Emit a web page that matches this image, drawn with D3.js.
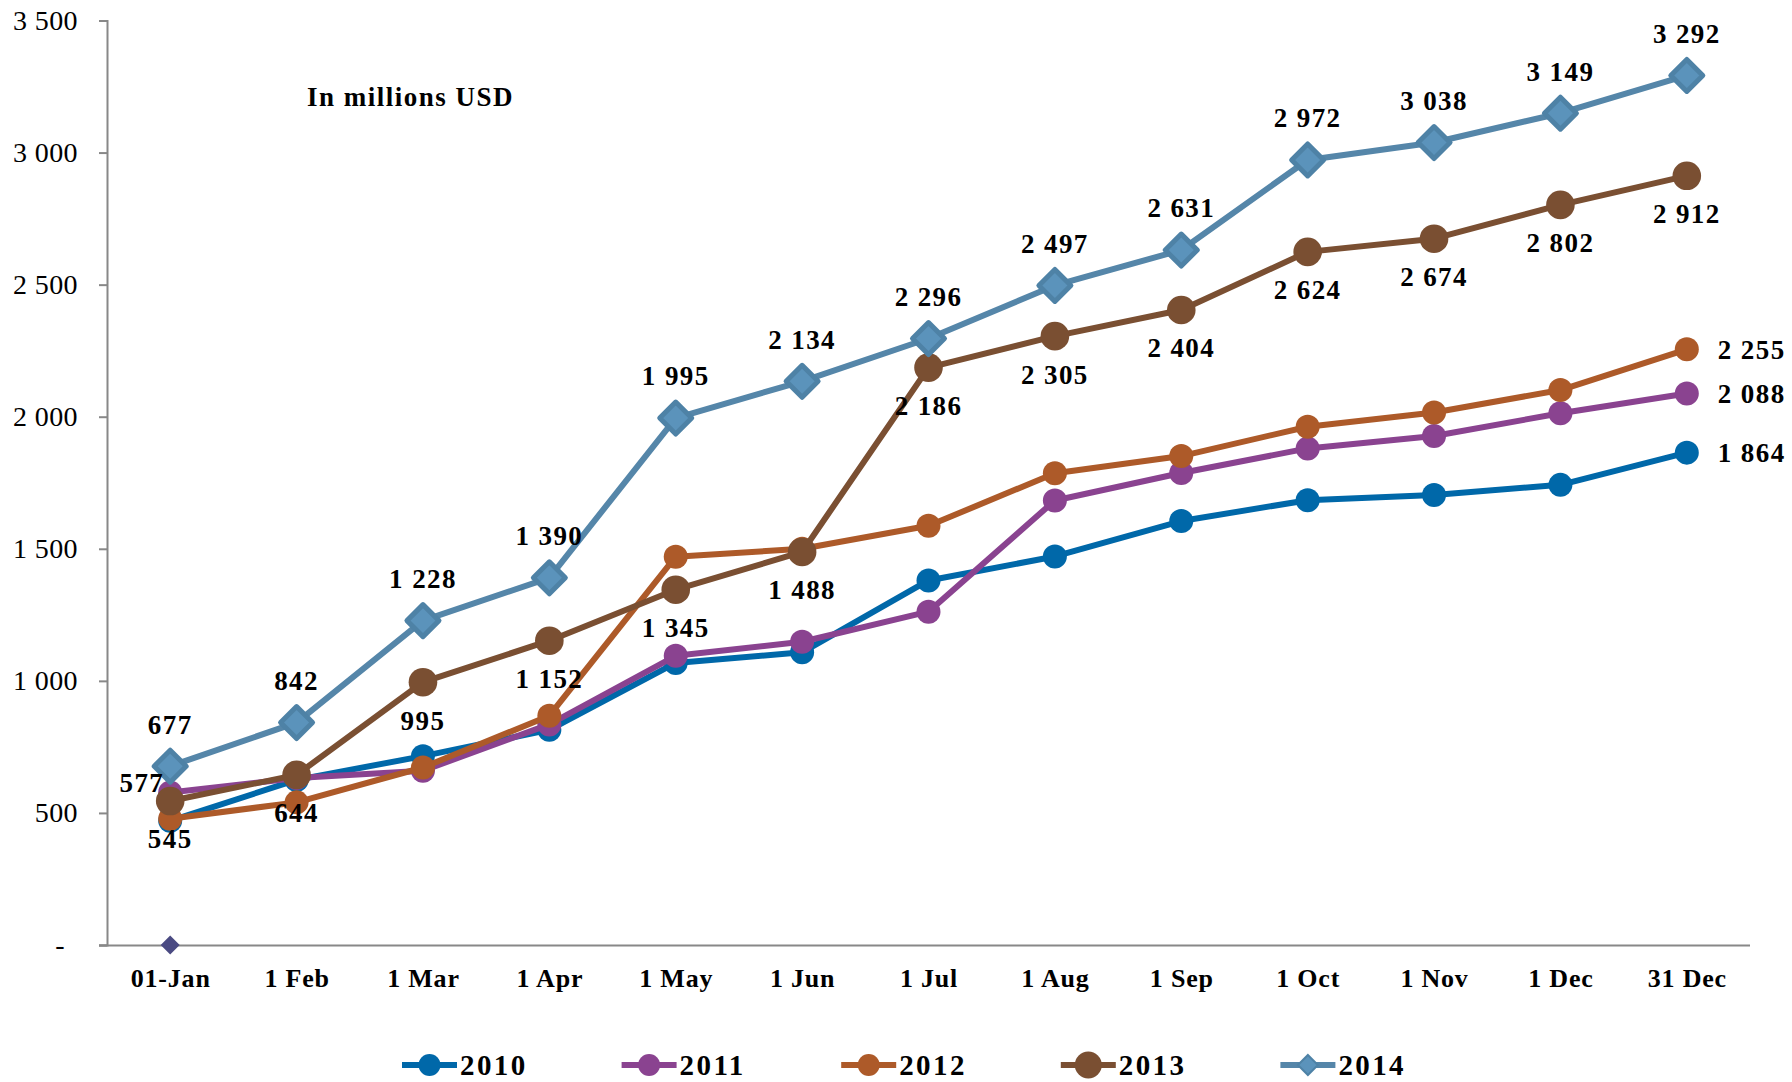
<!DOCTYPE html>
<html>
<head>
<meta charset="utf-8">
<script src="https://cdn.jsdelivr.net/npm/d3@7"></script>
<style>
  html, body { margin: 0; padding: 0; background: #fff; }
  svg { display: block; }
  text { font-family: "Liberation Serif", "Times New Roman", serif; fill: #000; }
</style>
</head>
<body>
<svg id="chart" width="1792" height="1082"></svg>
<script>
// ---- data ----
const categories = ["01-Jan", "1 Feb", "1 Mar", "1 Apr", "1 May", "1 Jun", "1 Jul", "1 Aug", "1 Sep", "1 Oct", "1 Nov", "1 Dec", "31 Dec"];
const seriesNames = ["2010", "2011", "2012", "2013", "2014"];
const values2010 = [470, 625, 715, 815, 1068, 1108, 1380, 1471, 1605, 1684, 1704, 1742, 1864];
const values2011 = [577, 632, 660, 835, 1095, 1148, 1262, 1683, 1787, 1880, 1927, 2013, 2088];
const values2012 = [478, 540, 672, 868, 1470, 1500, 1587, 1786, 1851, 1962, 2016, 2101, 2255];
const values2013 = [545, 644, 995, 1152, 1345, 1488, 2186, 2305, 2404, 2624, 2674, 2802, 2912];
const values2014 = [677, 842, 1228, 1390, 1995, 2134, 2296, 2497, 2631, 2972, 3038, 3149, 3292];
const strayPoint = [0]; // lone marker at 01-Jan
const yTicks = [0, 500, 1000, 1500, 2000, 2500, 3000, 3500];
const titleText = "In millions USD";

// ---- styles ----
const colors = {
  "2010": "#0068A9",
  "2011": "#8A4390",
  "2012": "#AD5A29",
  "2013": "#7A4F32",
  "2014": "#5586A9"
};
const diamondFill = "#5B93BB";
const diamondStroke = "#4E82A6";

const svg = d3.select("#chart");
const x = d3.scalePoint().domain(categories).range([107, 1750]).padding(0.5);
const y = d3.scaleLinear().domain([0, 3500]).range([945, 20.5]);

const fmt = v => v === 0 ? "-" : d3.format(",")(v).replace(/,/g, " ");

// ---- axes ----
const yAxis = d3.axisLeft(y).tickValues(yTicks).tickSize(8).tickFormat(fmt);
const yg = svg.append("g").attr("transform", "translate(107,0)").call(yAxis);
yg.select(".domain").attr("stroke", "#888").attr("stroke-width", 2);
yg.selectAll(".tick line").attr("stroke", "#888").attr("stroke-width", 2);
yg.selectAll(".tick text")
  .attr("x", d => d === 0 ? -42 : -29)
  .style("font-size", "28px")
  .style("letter-spacing", "0.4px")
  .style("font-family", "'Liberation Serif', serif")
  .attr("dy", "0.32em");

const xAxis = d3.axisBottom(x).tickSize(0).tickSizeOuter(0);
const xg = svg.append("g").attr("transform", "translate(0,945)").call(xAxis);
xg.select(".domain").attr("d", "M99,0.5H1750").attr("stroke", "#888").attr("stroke-width", 2);
xg.selectAll(".tick text")
  .attr("y", 42)
  .attr("dy", 0)
  .style("font-size", "26px")
  .style("font-weight", "bold")
  .style("letter-spacing", "0.8px")
  .style("font-family", "'Liberation Serif', serif");

// ---- title ----
svg.append("text")
  .attr("x", 307).attr("y", 106)
  .style("font-size", "27px").style("font-weight", "bold").style("letter-spacing", "1.5px")
  .text(titleText);

// ---- stray marker ----
const diamondPath = h => `M0,${-h}L${h},0L0,${h}L${-h},0Z`;
svg.selectAll(".stray").data(strayPoint).enter().append("path")
  .attr("d", diamondPath(9.5))
  .attr("transform", (d, i) => `translate(${x(categories[i])},${y(d)})`)
  .attr("fill", "#4A4A82");

// ---- series ----
const allSeries = [values2010, values2011, values2012, values2013, values2014];
const line = d3.line().x((d, i) => x(categories[i])).y(d => y(d));

allSeries.forEach((vals, si) => {
  const name = seriesNames[si];
  const g = svg.append("g");
  g.append("path").datum(vals).attr("d", line)
    .attr("fill", "none").attr("stroke", colors[name]).attr("stroke-width", 6)
    .attr("stroke-linejoin", "round");
  if (name === "2014") {
    g.selectAll("path.m").data(vals).enter().append("path").attr("class", "m")
      .attr("d", diamondPath(16))
      .attr("transform", (d, i) => `translate(${x(categories[i])},${y(d)})`)
      .attr("fill", diamondFill).attr("stroke", diamondStroke).attr("stroke-width", 5)
      .attr("stroke-linejoin", "round");
  } else {
    const r = name === "2013" ? 14.3 : 12;
    g.selectAll("circle").data(vals).enter().append("circle")
      .attr("cx", (d, i) => x(categories[i])).attr("cy", d => y(d)).attr("r", r)
      .attr("fill", colors[name]);
  }
});

// ---- data labels ----
const labelG = svg.append("g")
  .style("font-size", "27px").style("font-weight", "bold").style("letter-spacing", "1.4px");
// 2014 above
labelG.selectAll("text.l14").data(values2014).enter().append("text")
  .attr("x", (d, i) => x(categories[i])).attr("y", d => y(d) - 42).attr("dy", "0.35em")
  .attr("text-anchor", "middle").text(fmt);
// 2013 below
labelG.selectAll("text.l13").data(values2013).enter().append("text")
  .attr("x", (d, i) => x(categories[i])).attr("y", d => y(d) + 38).attr("dy", "0.35em")
  .attr("text-anchor", "middle").text(fmt);
// 2011 first value, to the left
labelG.append("text")
  .attr("x", x(categories[0]) - 6).attr("y", y(values2011[0]) - 10).attr("dy", "0.35em")
  .attr("text-anchor", "end").text(fmt(values2011[0]));
// last values of 2010-2012, to the right
[values2010, values2011, values2012].forEach(vals => {
  const last = vals.length - 1;
  labelG.append("text")
    .attr("x", x(categories[last]) + 31).attr("y", y(vals[last])).attr("dy", "0.35em")
    .attr("text-anchor", "start").text(fmt(vals[last]));
});

// ---- legend ----
const legend = svg.append("g");
seriesNames.forEach((name, i) => {
  const x0 = 402 + i * 219.6, yc = 1065;
  const lg = legend.append("g");
  lg.append("line").attr("x1", x0).attr("x2", x0 + 55).attr("y1", yc).attr("y2", yc)
    .attr("stroke", colors[name]).attr("stroke-width", 6);
  if (name === "2014") {
    lg.append("path").attr("d", diamondPath(10))
      .attr("transform", `translate(${x0 + 27.5},${yc})`)
      .attr("fill", diamondFill).attr("stroke", diamondStroke).attr("stroke-width", 2);
  } else {
    lg.append("circle").attr("cx", x0 + 27.5).attr("cy", yc)
      .attr("r", name === "2013" ? 13.5 : 11).attr("fill", colors[name]);
  }
  lg.append("text").attr("x", x0 + 58).attr("y", yc).attr("dy", "0.35em")
    .style("font-size", "29px").style("font-weight", "bold").style("letter-spacing", "2.4px")
    .text(name);
});
</script>
</body>
</html>
